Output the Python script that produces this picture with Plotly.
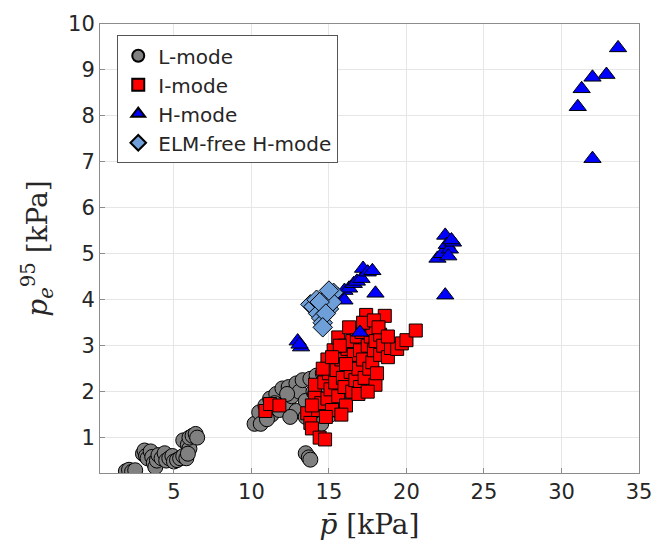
import plotly.graph_objects as go

# L-mode
l_x = [1.9, 2.1, 2.3, 2.5,
       3.0, 3.1, 3.2, 3.3, 3.5, 3.6, 3.7, 3.8, 3.9, 4.0, 4.2, 4.4, 4.5, 4.7, 4.9, 5.0,
       5.2, 5.4, 5.6, 5.6, 5.8, 5.9, 6.0, 6.0, 6.2, 6.4, 6.5, 5.9,
       10.2, 10.5, 10.6, 10.9, 11.2, 11.3, 11.6, 11.8, 12.0, 12.2, 12.4, 12.6, 12.9, 12.9,
       13.1, 13.3, 13.5, 13.8, 13.9, 14.0, 14.2, 14.4, 14.6, 14.8, 15.1, 15.2, 15.5, 15.7,
       15.9, 16.2, 16.5, 16.8, 11.0, 12.5, 13.5, 14.5, 15.5, 16.0, 13.5, 13.7, 13.8,
       11.5, 12.3, 14.1, 14.7]
l_y = [0.27, 0.30, 0.26, 0.29,
       0.65, 0.72, 0.60, 0.55, 0.70, 0.58, 0.45, 0.36, 0.50, 0.62, 0.55, 0.66, 0.50, 0.55, 0.60, 0.48,
       0.51, 0.55, 0.60, 0.94, 0.55, 0.85, 0.76, 1.00, 1.04, 1.08, 1.00, 0.65,
       1.30, 1.55, 1.30, 1.70, 1.85, 1.50, 1.95, 1.60, 2.07, 1.75, 2.10, 1.90, 2.18, 1.58,
       2.00, 2.25, 1.80, 2.28, 1.36, 2.00, 2.35, 1.70, 2.40, 2.10, 1.50, 2.50, 2.20, 2.65,
       2.43, 2.60, 2.30, 2.55, 1.40, 1.45, 1.45, 1.30, 1.60, 1.90, 0.66, 0.57, 0.52,
       1.75, 1.95, 1.95, 2.25]

# I-mode
i_x = [10.9, 11.2, 11.8, 13.6, 13.8, 13.9, 14.1, 14.1, 14.4, 14.75, 14.3, 14.5, 14.7, 14.9,
       14.9, 15.0, 15.1, 15.2, 15.3, 15.4, 15.5, 15.6, 15.6, 15.8, 15.9, 16.0, 16.0, 16.1,
       16.2, 16.3, 16.4, 16.5, 16.5, 16.6, 16.7, 16.8, 16.9, 17.0, 17.0, 17.1, 17.2, 17.3,
       17.4, 17.5, 17.6, 17.7, 17.8, 17.8, 17.9, 18.0, 18.0, 18.1, 18.3, 18.3, 18.5, 18.6,
       18.8, 19.0, 19.4, 19.7, 20.0, 20.6, 16.3, 15.7, 14.6, 15.2, 16.9, 17.5, 15.8, 14.8,
       13.9, 17.2, 17.9, 18.2, 18.8, 16.1]
i_y = [1.58, 1.73, 1.70, 1.53, 1.32, 1.20, 1.94, 2.15, 1.00, 0.96, 1.60, 1.75, 2.20, 1.85,
       2.70, 2.40, 2.05, 1.60, 2.90, 2.20, 2.47, 3.18, 1.90, 2.70, 2.30, 3.00, 2.10, 1.70,
       2.93, 2.60, 2.43, 3.10, 2.00, 2.80, 2.25, 3.20, 2.50, 2.10, 2.90, 3.30, 2.70, 2.30,
       3.67, 3.00, 2.50, 3.20, 2.64, 3.35, 2.90, 2.15, 3.10, 2.40, 3.24, 2.80, 3.00, 3.65,
       2.75, 2.95, 2.93, 3.05, 3.12, 3.33, 3.40, 3.00, 2.50, 2.75, 1.95, 2.00, 1.50, 1.45,
       1.70, 3.50, 3.55, 3.40, 3.20, 2.60]

# H-mode
h_x = [12.98, 13.2, 13.1,
       15.3, 15.6, 16.0, 16.0, 16.3, 16.6, 16.8, 17.1, 17.2, 17.5, 17.8, 18.0, 17.0,
       22.0, 22.3, 22.5, 22.6, 22.8, 23.0, 22.7, 22.9, 22.5,
       33.65, 32.9, 32.0, 31.3, 31.05, 32.0]
h_y = [3.10, 2.97, 3.03,
       4.05, 4.10, 4.20, 3.99, 4.25, 4.35, 4.40, 4.46, 4.68, 4.60, 4.63, 4.14, 3.29,
       4.90, 5.00, 5.40, 5.20, 5.10, 5.25, 4.95, 5.30, 4.10,
       9.48, 8.90, 8.84, 8.59, 8.20, 7.07]

# ELM-free H-mode
e_x = [13.8, 14.0, 14.2, 14.3, 14.5, 14.6, 14.7, 14.9, 15.0, 15.1, 15.3, 15.2, 14.4, 14.8,
       14.6, 15.0]
e_y = [3.90, 3.85, 4.00, 3.70, 3.60, 3.50, 3.90, 4.05, 3.80, 4.10, 4.15, 3.95, 3.95, 3.70,
       3.40, 4.20]

x_ticks = [5, 10, 15, 20, 25, 30, 35]
y_ticks = [1, 2, 3, 4, 5, 6, 7, 8, 9, 10]

line = dict(color="black", width=1)
fig = go.Figure()
fig.add_trace(go.Scatter(x=l_x, y=l_y, mode="markers", name="L-mode",
                         marker=dict(symbol="circle", size=15, color="#808080", line=line)))
fig.add_trace(go.Scatter(x=i_x, y=i_y, mode="markers", name="I-mode",
                         marker=dict(symbol="square", size=13, color="#ff0000", line=line)))
fig.add_trace(go.Scatter(x=h_x, y=h_y, mode="markers", name="H-mode",
                         marker=dict(symbol="triangle-up", size=15, color="#0000ff", line=line)))
fig.add_trace(go.Scatter(x=e_x, y=e_y, mode="markers", name="ELM-free H-mode",
                         marker=dict(symbol="diamond", size=15, color="#6f9fd8", line=line)))

axis_common = dict(showline=True, mirror=True, linecolor="#8c8c8c", linewidth=1,
                   ticks="inside", ticklen=5, tickcolor="#8c8c8c",
                   showgrid=True, gridcolor="#e6e6e6", gridwidth=1, zeroline=False,
                   tickfont=dict(family="DejaVu Sans", size=21, color="#262626"))

fig.update_layout(
    width=672, height=549,
    margin=dict(l=100, r=33, t=16, b=76),
    paper_bgcolor="white", plot_bgcolor="white",
    xaxis=dict(range=[0.23, 35], tickvals=x_ticks,
               title=dict(text="<i>p̄</i> [kPa]", standoff=11,
                          font=dict(family="DejaVu Serif", size=28, color="#262626")),
               **axis_common),
    yaxis=dict(range=[0.23, 10], tickvals=y_ticks,
               title=dict(text="<i>p</i><sub><i>e</i></sub><sup>95</sup> [kPa]", standoff=12,
                          font=dict(family="DejaVu Serif", size=28, color="#262626")),
               **axis_common),
    legend=dict(x=0.032, y=0.975, xanchor="left", yanchor="top",
                bgcolor="white", bordercolor="#555555", borderwidth=1,
                font=dict(family="DejaVu Sans", size=20, color="#262626"),
                itemsizing="constant", tracegroupgap=0),
    showlegend=True,
)

fig.write_html("out.html")
